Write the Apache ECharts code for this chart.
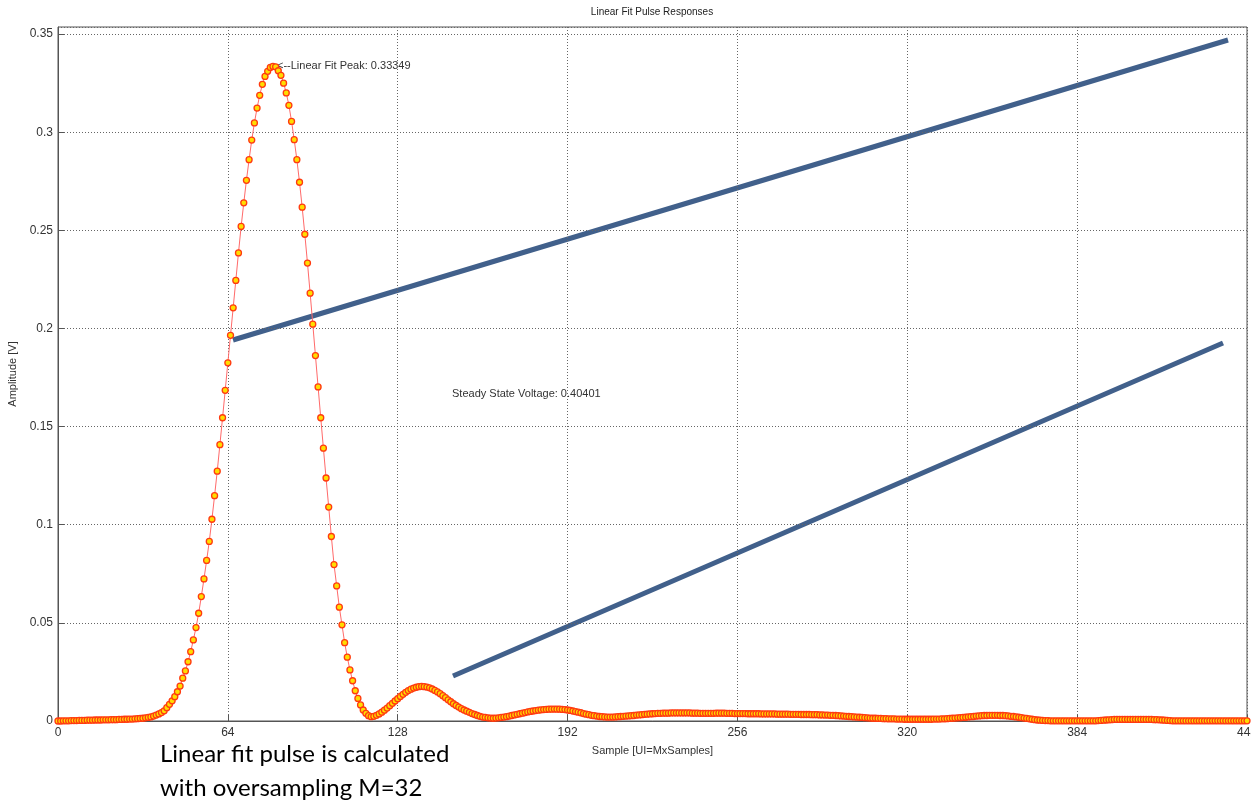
<!DOCTYPE html>
<html>
<head>
<meta charset="utf-8">
<script src="https://cdn.jsdelivr.net/npm/echarts@6/dist/echarts.min.js"></script>
<style>
  html, body { margin: 0; padding: 0; background: #fff; }
  #main { width: 1251px; height: 801px; }
</style>
</head>
<body>
<div id="main"></div>
<script>
// linear fit pulse response, one value per sample (0..448), volts
var pulse = [
  /*   0 */ 0.0000,0.0000,0.0001,0.0001,0.0001,0.0002,0.0002,0.0002,0.0003,0.0003,
  /*  10 */ 0.0003,0.0004,0.0004,0.0004,0.0005,0.0005,0.0005,0.0006,0.0006,0.0006,
  /*  20 */ 0.0007,0.0007,0.0007,0.0008,0.0008,0.0009,0.0009,0.0010,0.0010,0.0011,
  /*  30 */ 0.0012,0.0013,0.0014,0.0016,0.0018,0.0021,0.0025,0.0030,0.0036,0.0043,
  /*  40 */ 0.0052,0.0068,0.0085,0.0103,0.0124,0.0149,0.0178,0.0218,0.0255,0.0302,
  /*  50 */ 0.0353,0.0413,0.0476,0.0549,0.0634,0.0724,0.0818,0.0915,0.1028,0.1148,
  /*  60 */ 0.1273,0.1408,0.1545,0.1685,0.1825,0.1965,0.2105,0.2245,0.2385,0.2520,
  /*  70 */ 0.2640,0.2755,0.2860,0.2960,0.3047,0.3123,0.3188,0.3244,0.3284,0.3310,
  /*  80 */ 0.3330,0.3335,0.3333,0.3313,0.3290,0.3250,0.3200,0.3137,0.3055,0.2962,
  /*  90 */ 0.2860,0.2745,0.2618,0.2480,0.2333,0.2180,0.2022,0.1862,0.1702,0.1545,
  /* 100 */ 0.1390,0.1238,0.1090,0.0940,0.0797,0.0688,0.0580,0.0490,0.0399,0.0325,
  /* 110 */ 0.0260,0.0205,0.0154,0.0115,0.0082,0.0056,0.0039,0.0027,0.0022,0.0024,
  /* 120 */ 0.0029,0.0036,0.0045,0.0055,0.0066,0.0078,0.0090,0.0102,0.0114,0.0125,
  /* 130 */ 0.0136,0.0146,0.0155,0.0162,0.0168,0.0172,0.0175,0.0176,0.0175,0.0173,
  /* 140 */ 0.0169,0.0163,0.0156,0.0148,0.0139,0.0129,0.0119,0.0108,0.0098,0.0088,
  /* 150 */ 0.0079,0.0071,0.0063,0.0056,0.0050,0.0044,0.0038,0.0033,0.0028,0.0024,
  /* 160 */ 0.0020,0.0018,0.0016,0.0015,0.0014,0.0015,0.0016,0.0018,0.0020,0.0022,
  /* 170 */ 0.0025,0.0028,0.0031,0.0034,0.0037,0.0040,0.0043,0.0046,0.0049,0.0051,
  /* 180 */ 0.0053,0.0055,0.0057,0.0058,0.0059,0.0060,0.0060,0.0061,0.0060,0.0060,
  /* 190 */ 0.0059,0.0058,0.0056,0.0054,0.0051,0.0048,0.0045,0.0042,0.0038,0.0035,
  /* 200 */ 0.0032,0.0029,0.0027,0.0025,0.0023,0.0022,0.0021,0.0020,0.0020,0.0020,
  /* 210 */ 0.0021,0.0022,0.0023,0.0024,0.0025,0.0026,0.0027,0.0028,0.0030,0.0031,
  /* 220 */ 0.0032,0.0034,0.0035,0.0036,0.0037,0.0038,0.0039,0.0039,0.0040,0.0040,
  /* 230 */ 0.0040,0.0041,0.0041,0.0041,0.0041,0.0041,0.0041,0.0041,0.0041,0.0040,
  /* 240 */ 0.0040,0.0040,0.0039,0.0039,0.0039,0.0039,0.0039,0.0039,0.0040,0.0040,
  /* 250 */ 0.0040,0.0040,0.0039,0.0039,0.0039,0.0038,0.0038,0.0038,0.0038,0.0038,
  /* 260 */ 0.0037,0.0037,0.0037,0.0037,0.0037,0.0036,0.0036,0.0036,0.0036,0.0036,
  /* 270 */ 0.0036,0.0035,0.0035,0.0035,0.0035,0.0035,0.0034,0.0034,0.0034,0.0034,
  /* 280 */ 0.0033,0.0033,0.0033,0.0033,0.0032,0.0032,0.0032,0.0031,0.0031,0.0030,
  /* 290 */ 0.0030,0.0029,0.0029,0.0028,0.0027,0.0026,0.0025,0.0024,0.0023,0.0022,
  /* 300 */ 0.0021,0.0020,0.0019,0.0018,0.0017,0.0016,0.0015,0.0014,0.0014,0.0013,
  /* 310 */ 0.0013,0.0012,0.0012,0.0011,0.0011,0.0011,0.0010,0.0010,0.0010,0.0009,
  /* 320 */ 0.0009,0.0009,0.0009,0.0009,0.0009,0.0009,0.0009,0.0009,0.0009,0.0009,
  /* 330 */ 0.0010,0.0010,0.0010,0.0011,0.0011,0.0012,0.0013,0.0014,0.0015,0.0016,
  /* 340 */ 0.0017,0.0018,0.0019,0.0021,0.0022,0.0023,0.0025,0.0026,0.0027,0.0028,
  /* 350 */ 0.0028,0.0029,0.0029,0.0029,0.0029,0.0028,0.0028,0.0027,0.0026,0.0024,
  /* 360 */ 0.0023,0.0021,0.0019,0.0017,0.0015,0.0013,0.0011,0.0009,0.0007,0.0005,
  /* 370 */ 0.0004,0.0003,0.0002,0.0002,0.0001,0.0001,0.0001,0.0001,0.0001,0.0001,
  /* 380 */ 0.0001,0.0001,0.0001,0.0001,0.0001,0.0001,0.0001,0.0001,0.0001,0.0001,
  /* 390 */ 0.0001,0.0001,0.0002,0.0003,0.0004,0.0005,0.0006,0.0007,0.0008,0.0008,
  /* 400 */ 0.0008,0.0008,0.0008,0.0008,0.0008,0.0008,0.0008,0.0008,0.0008,0.0008,
  /* 410 */ 0.0008,0.0008,0.0008,0.0007,0.0007,0.0006,0.0005,0.0004,0.0003,0.0002,
  /* 420 */ 0.0001,0.0001,0.0001,0.0001,0.0001,0.0001,0.0001,0.0001,0.0001,0.0001,
  /* 430 */ 0.0001,0.0001,0.0001,0.0001,0.0001,0.0001,0.0001,0.0001,0.0001,0.0001,
  /* 440 */ 0.0001,0.0001,0.0001,0.0001,0.0001,0.0001,0.0001,0.0001,0.0001
];

var xTicks = [0, 64, 128, 192, 256, 320, 384, 448];
var yTicks = [0, 0.05, 0.1, 0.15, 0.2, 0.25, 0.3, 0.35];

var peakText = '<--Linear Fit Peak: 0.33349';
var steadyText = 'Steady State Voltage: 0.40401';
var noteLines = ['Linear fit pulse is calculated', 'with oversampling M=32'];

var axisFont = { fontFamily: 'Liberation Sans', fontSize: 12, color: '#333' };

var chart = echarts.init(document.getElementById('main'));
chart.setOption({
  animation: false,
  backgroundColor: '#fff',
  grid: {
    left: 58, right: 4, top: 27, bottom: 80,
    outerBoundsMode: 'none',
    containLabel: false,
    show: true, borderColor: '#555', borderWidth: 1
  },
  xAxis: {
    type: 'value',
    min: xTicks[0],
    max: xTicks[xTicks.length - 1],
    interval: 64,
    name: 'Sample [UI=MxSamples]',
    nameLocation: 'middle',
    nameGap: 24,
    nameTextStyle: { fontFamily: 'Liberation Sans', fontSize: 11, color: '#333' },
    axisLine: { lineStyle: { color: '#555' } },
    axisTick: { inside: true, length: 6, lineStyle: { color: '#555' } },
    axisLabel: Object.assign({ margin: 6, hideOverlap: false }, axisFont),
    splitLine: { show: true, lineStyle: { color: '#666', type: [1, 2] } }
  },
  yAxis: {
    type: 'value',
    min: yTicks[0],
    max: 0.3536,
    interval: 0.05,
    name: 'Amplitude [V]',
    nameLocation: 'middle',
    nameGap: 36,
    nameTextStyle: { fontFamily: 'Liberation Sans', fontSize: 11, color: '#333' },
    axisLine: { show: true, lineStyle: { color: '#555' } },
    axisTick: { inside: true, length: 6, lineStyle: { color: '#555' } },
    axisLabel: Object.assign({ margin: 5, showMaxLabel: false }, axisFont),
    splitLine: { show: true, lineStyle: { color: '#666', type: [1, 2] } }
  },
  series: [{
    type: 'line',
    clip: false,
    data: pulse.map(function (v, i) { return [i, v]; }),
    symbol: 'circle',
    symbolSize: 6,
    lineStyle: { color: '#ff6a6a', width: 1 },
    itemStyle: { color: '#ffdd00', borderColor: '#ff3a10', borderWidth: 1.3 }
  }],
  graphic: [
    { type: 'text', x: 652, y: 7,
      style: { text: 'Linear Fit Pulse Responses', font: '10px "Liberation Sans"', fill: '#222', textAlign: 'center' } },
    { type: 'text', x: 277, y: 60,
      style: { text: peakText, font: '11px "Liberation Sans"', fill: '#333' } },
    { type: 'text', x: 452, y: 388,
      style: { text: steadyText, font: '11px "Liberation Sans"', fill: '#333' } },
    { type: 'line', shape: { x1: 233, y1: 340, x2: 1228, y2: 40 },
      style: { stroke: '#41608b', lineWidth: 5 } },
    { type: 'line', shape: { x1: 453, y1: 676, x2: 1223, y2: 343 },
      style: { stroke: '#41608b', lineWidth: 5 } },
    { type: 'text', x: 160, y: 742,
      style: { text: noteLines[0], font: '24px Lato', fill: '#000' } },
    { type: 'text', x: 160, y: 776,
      style: { text: noteLines[1], font: '24px Lato', fill: '#000' } }
  ]
});
</script>
</body>
</html>
